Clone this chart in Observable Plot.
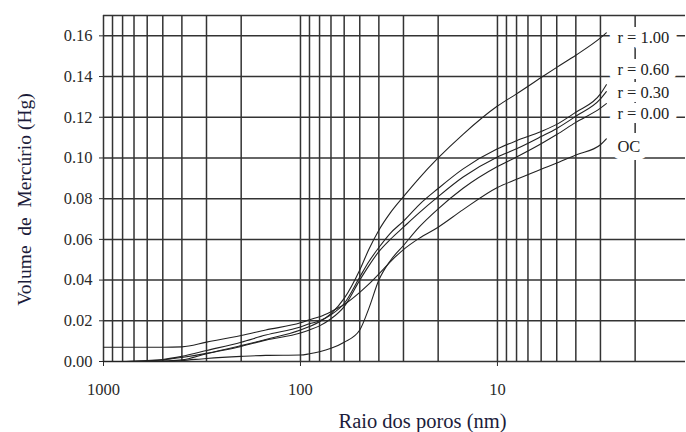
<!DOCTYPE html>
<html>
<head>
<meta charset="utf-8">
<script src="https://cdn.jsdelivr.net/npm/d3@7"></script>
<script src="https://cdn.jsdelivr.net/npm/@observablehq/plot@0.6"></script>
<style>
  html, body { margin: 0; padding: 0; background: #fff; }
  #chart svg [aria-label^="x-axis"] text,
  #chart svg [aria-label^="y-axis"] text { font-size: 16.5px; }
</style>
</head>
<body>
<div id="chart"></div>
<script>
// Pore radius (nm) sampling points
const radius = [1000, 800, 600, 500, 400, 300, 200, 150, 100, 90, 80, 70, 60, 50, 45, 40, 35, 30, 25, 20, 15, 10, 8, 6, 5, 4, 3, 2.8];
// Cumulative mercury volume for each series
const r100 = [0, 0, 0.0003, 0.0008, 0.002, 0.004, 0.0078, 0.0108, 0.0155, 0.0172, 0.0195, 0.0235, 0.031, 0.045, 0.055, 0.0645, 0.073, 0.081, 0.090, 0.100, 0.1115, 0.1255, 0.1315, 0.1395, 0.1445, 0.1505, 0.159, 0.1615];
const r060 = [0, 0, 0.0005, 0.001, 0.0025, 0.0054, 0.0095, 0.013, 0.017, 0.0185, 0.020, 0.023, 0.0285, 0.0415, 0.049, 0.056, 0.063, 0.069, 0.077, 0.085, 0.0945, 0.1045, 0.1085, 0.113, 0.1165, 0.1225, 0.1315, 0.136];
const r030 = [0, 0, 0, 0.0003, 0.0008, 0.0038, 0.0074, 0.0105, 0.014, 0.0155, 0.0175, 0.021, 0.027, 0.040, 0.047, 0.054, 0.060, 0.066, 0.073, 0.081, 0.0905, 0.1005, 0.1045, 0.1105, 0.1145, 0.1205, 0.129, 0.1326];
const r000 = [0, 0, 0, 0, 0.0005, 0.0015, 0.0025, 0.003, 0.0032, 0.0038, 0.0048, 0.0065, 0.0095, 0.0155, 0.026, 0.040, 0.0495, 0.057, 0.066, 0.075, 0.085, 0.0958, 0.1005, 0.107, 0.1115, 0.1175, 0.1245, 0.1267];
const oc   = [0.007, 0.007, 0.007, 0.007, 0.0072, 0.0095, 0.0128, 0.0155, 0.019, 0.0205, 0.022, 0.0245, 0.028, 0.034, 0.038, 0.043, 0.049, 0.055, 0.0605, 0.066, 0.0745, 0.0855, 0.0895, 0.0945, 0.0975, 0.1015, 0.1065, 0.1094];

const seriesNames = ["r = 1.00", "r = 0.60", "r = 0.30", "r = 0.00", "OC"];
const seriesValues = [r100, r060, r030, r000, oc];

// Series labels at the right and their vertical positions
const labelNames = ["r = 1.00", "r = 0.60", "r = 0.30", "r = 0.00", "OC"];
const labelValues = [0.159, 0.1435, 0.132, 0.1215, 0.1055];
const labelRadius = 2.46;

// Axes
const xDomain = [1000, 1.11];
const yDomain = [0, 0.17];
const xTicks = [1000, 100, 10];
const yTicks = [0, 0.02, 0.04, 0.06, 0.08, 0.10, 0.12, 0.14, 0.16];
const xGrid = [1000, 900, 800, 700, 600, 500, 400, 300, 200,
               100, 90, 80, 70, 60, 50, 40, 30, 20,
               10, 9, 8, 7, 6, 5, 4, 3, 2];
const yGrid = [0, 0.02, 0.04, 0.06, 0.08, 0.10, 0.12, 0.14, 0.16, 0.17];

const xTitle = "Raio dos poros (nm)";
const yTitle = "Volume\u00a0 de\u00a0 Mercúrio (Hg)";

const rows = seriesNames.flatMap((name, s) =>
  radius.map((r, i) => ({series: name, r, v: seriesValues[s][i]})));
const labels = labelNames.map((name, i) => ({name, v: labelValues[i]}));

const chart = Plot.plot({
  width: 686,
  height: 432,
  marginLeft: 103,
  marginRight: 1,
  marginTop: 15,
  marginBottom: 71,
  style: {fontFamily: "'Liberation Serif', 'Times New Roman', serif", fontSize: "16.5px", color: "#2a2a2a", background: "white"},
  x: {type: "log", domain: xDomain, ticks: xTicks, tickFormat: d => String(d), tickSize: 5, tickPadding: 17, label: null},
  y: {domain: yDomain, ticks: yTicks, tickFormat: d => d.toFixed(2), tickSize: 4, tickPadding: 7, label: null},
  marks: [
    Plot.ruleX(xGrid, {stroke: "#333", strokeWidth: 1.5}),
    Plot.ruleY(yGrid, {stroke: "#333", strokeWidth: 1.5}),
    Plot.line(rows, {x: "r", y: "v", z: "series", stroke: "#222", strokeWidth: 1.1, curve: "monotone-x"}),
    Plot.text(labels, {x: () => labelRadius, y: "v", text: "name", textAnchor: "start",
      fill: "#222", stroke: "white", strokeWidth: 16, paintOrder: "stroke", fontSize: 16.5}),
    Plot.text([xTitle], {text: d => d, frameAnchor: "bottom", textAnchor: "middle", lineAnchor: "middle",
      dx: 28, dy: 60, fontSize: 20.5, fill: "#1c1c3a"}),
    Plot.text([yTitle], {text: d => d, frameAnchor: "left", textAnchor: "middle", lineAnchor: "middle",
      rotate: -90, dx: -79, dy: 11, fontSize: 19.5, fill: "#1c1c3a"})
  ]
});
document.getElementById("chart").appendChild(chart);
</script>
</body>
</html>
